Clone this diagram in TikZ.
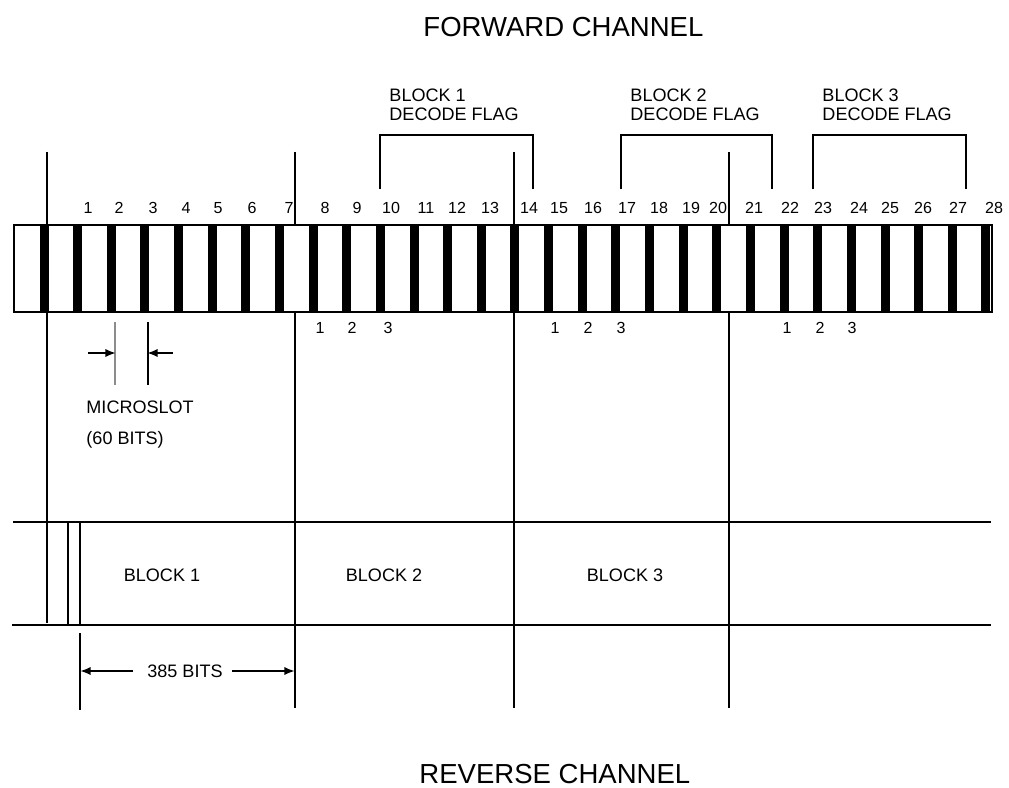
\documentclass[tikz,border=0pt]{standalone}
\usepackage{fontspec}
\setmainfont{Liberation Sans}
\usetikzlibrary{arrows.meta}
\begin{document}
\begin{tikzpicture}[x=0.03cm, y=-0.03cm, line width=2.5pt,
        lbl/.style={inner sep=0pt, font=\fontsize{15.4}{17}\selectfont},
        nr/.style={inner sep=0pt, font=\fontsize{13.7}{16}\selectfont},
        titel/.style={inner sep=0pt, anchor=west, font=\fontsize{23.5}{28}\selectfont},
        pfeil/.style={line width=1.7pt, -{Latex[length=9pt, width=7pt]}}]
        \useasboundingbox (0,0) rectangle (1009,788);
        % Ueberschriften
        \node[titel] (fwd) at (422,27) {FORWARD CHANNEL};
        \node[titel] (rev) at (418,774) {REVERSE CHANNEL};
        % Blockgrenzen (lange Senkrechte)
        \draw (47,152) -- (47,623);
        \foreach \x in {295,514,729} {\draw (\x,152) -- (\x,708);}
        % Vorwaertskanal: Streifen mit Balken
        \fill[white] (14,225) rectangle (992,312);
        \foreach \k in {0,...,28} {\fill (39.5+33.64*\k,225) rectangle ++(9,87);}
        \draw (14,225) rectangle (992,312);
        % Mikroslot-Nummern
        \foreach \x [count=\k] in {88,119,153,186,218,252,289,325,357,391,426,457,490,529,
                                   559,593,627,659,691,718,754,790,823,859,890,923,958,994}
            {\node[nr] (n\k) at (\x,208) {\k};}
        % Decode-Flags mit Klammern
        \foreach \a/\b/\n in {380/533/1, 621/772/2, 813/966/3}
            {\draw (\a,189) |- (\b,135) -- (\b,189);
             \node[lbl, anchor=north west, align=left] (flag\n) at (\a+8,87) {BLOCK \n\\DECODE FLAG};}
        % Nummern unter dem Streifen
        \foreach \x/\t in {320/1, 352/2, 388/3, 555/1, 588/2, 621/3, 787/1, 820/2, 852/3}
            {\node[nr] (u\x) at (\x,328) {\t};}
        % Mikroslot-Bemassung
        \draw[line width=1.6pt, black!45] (115,322) -- (115,385);
        \draw[line width=2pt] (148,322) -- (148,385);
        \coordinate (ms0) at (88,353);
        \coordinate (ms1) at (116,353);
        \coordinate (ms2) at (147,353);
        \coordinate (ms3) at (173,353);
        \draw[pfeil] (ms0) -- (ms1);
        \draw[pfeil] (ms3) -- (ms2);
        \node[lbl, anchor=west] (mslot) at (85,407) {MICROSLOT};
        \node[lbl, anchor=west] (mbits) at (85,440) {(60 BITS)};
        % Rueckwaertskanal
        \draw (13,522) -- (991,522);
        \draw (12,625) -- (991,625);
        \draw (68,522) -- (68,625);
        \draw (80,522) -- (80,625);
        \node[lbl] (rb1) at (162,575) {BLOCK 1};
        \node[lbl] (rb2) at (384,575) {BLOCK 2};
        \node[lbl] (rb3) at (625,575) {BLOCK 3};
        % Blocklaenge
        \draw (80,633) -- (80,710);
        \coordinate (d1) at (80,671);
        \coordinate (d2) at (295,671);
        \node[lbl] (bits) at (185,671) {385 BITS};
        \draw[pfeil, shorten <=11pt] (bits.west) -- (d1);
        \draw[pfeil, shorten <=7pt] (bits.east) -- (d2);
    \end{tikzpicture}
\end{document}
